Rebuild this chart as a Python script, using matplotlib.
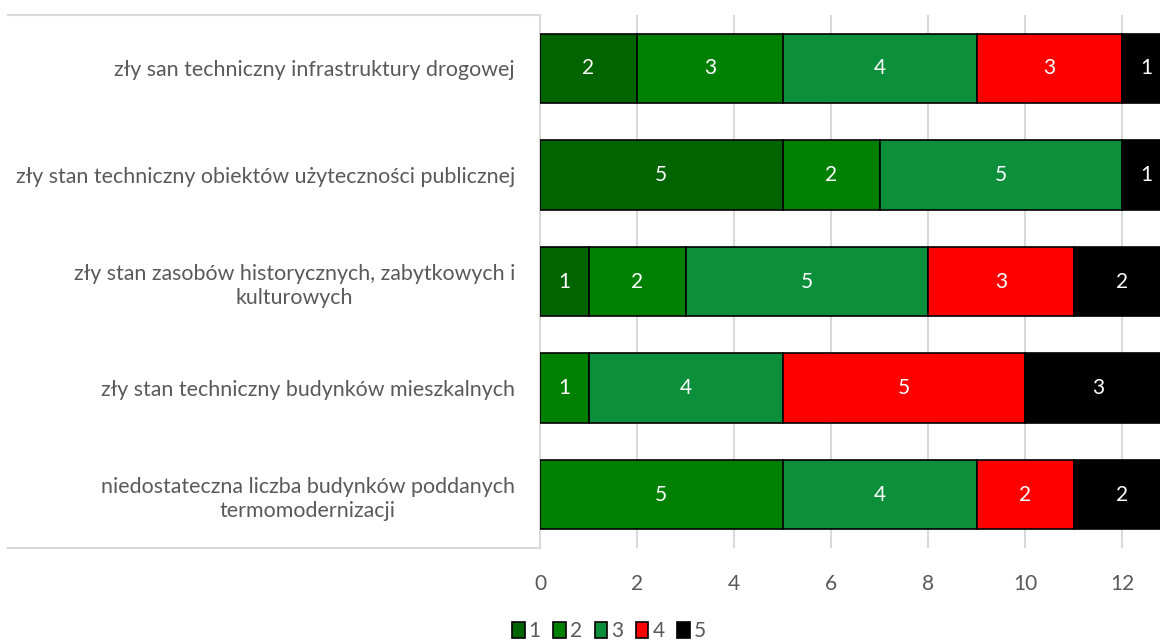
import matplotlib
matplotlib.use("Agg")
import matplotlib.pyplot as plt
import numpy as np
from matplotlib.lines import Line2D

plt.rcParams['font.family'] = ['Lato', 'DejaVu Sans']

categories = [
    "zły san techniczny infrastruktury drogowej",
    "zły stan techniczny obiektów użyteczności publicznej",
    "zły stan zasobów historycznych, zabytkowych i\nkulturowych",
    "zły stan techniczny budynków mieszkalnych",
    "niedostateczna liczba budynków poddanych\ntermomodernizacji",
]
series_names = ["1", "2", "3", "4", "5"]
s1 = [2, 5, 1, 0, 0]
s2 = [3, 2, 2, 1, 5]
s3 = [4, 5, 5, 4, 4]
s4 = [3, 0, 3, 5, 2]
s5 = [1, 1, 2, 3, 2]
series = [s1, s2, s3, s4, s5]
colors = ["#006400", "#008000", "#0C8F3A", "#FF0000", "#000000"]
xticks = [0, 2, 4, 6, 8, 10, 12]

fig = plt.figure(figsize=(11.6, 6.41), dpi=100)
ax = fig.add_axes([540/1160, 1-548/641, 620/1160, 533/641])

y = np.arange(len(categories))
left = np.zeros(len(categories))
for name, vals, c in zip(series_names, series, colors):
    vals = np.array(vals, dtype=float)
    ax.barh(y, vals, left=left, height=0.65, color=c, edgecolor="black",
            linewidth=1.2, label=name, zorder=3)
    for yi, l, v in zip(y, left, vals):
        if v > 0:
            ax.text(l + v/2, yi, f"{int(v)}", ha="center", va="center",
                    color="white", fontsize=15, zorder=4, clip_on=True)
    left += vals

ax.set_xlim(0, 12.78)
ax.set_ylim(len(categories)-0.5, -0.5)
ax.set_xticks(xticks)
ax.set_xticklabels([str(t) for t in xticks], fontsize=15, color="#595959")
ax.set_yticks(y)
ax.set_yticklabels(categories, fontsize=15.4, color="#595959", multialignment="center",
                   linespacing=1.25)
ax.tick_params(axis="y", length=0, pad=18)
ax.tick_params(axis="x", length=0, pad=19)
ax.grid(axis="x", color="#D9D9D9", linewidth=1.5, zorder=0)
for sp in ["top", "right", "bottom"]:
    ax.spines[sp].set_visible(False)
ax.spines["left"].set_color("#D9D9D9")
ax.spines["left"].set_linewidth(1.5)

# table-like border lines around category labels
for yy in [0, 1]:
    ax.add_line(Line2D([-532/620, 0], [yy, yy], transform=ax.transAxes,
                       color="#D9D9D9", linewidth=1.5, clip_on=False))

handles = [plt.Rectangle((0, 0), 1, 1, facecolor=c, edgecolor="black", linewidth=1.2)
           for c in colors]
fig.legend(handles, series_names, loc="center", bbox_to_anchor=(609/1160, 1-631/641),
           ncol=5, frameon=False, fontsize=15, handlelength=0.6, handleheight=0.8,
           handletextpad=0.2, columnspacing=0.6, labelcolor="#595959")

fig.savefig("out.png", dpi=100)
